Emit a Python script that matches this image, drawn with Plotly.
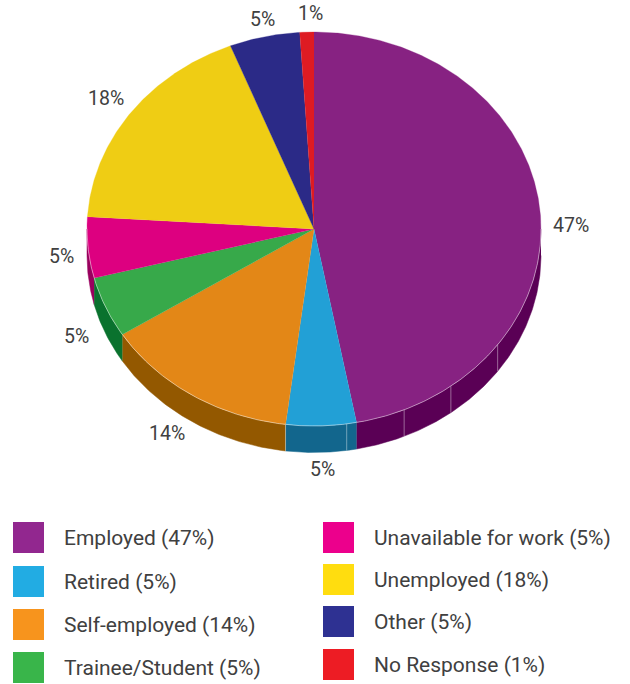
import numpy as np
import plotly.graph_objects as go

# Survey breakdown, drawn clockwise from twelve o'clock
categories = ["Employed", "Retired", "Self-employed", "Trainee/Student",
              "Unavailable for work", "Unemployed", "Other", "No Response"]
shares = [47, 5, 14, 5, 5, 18, 5, 1]

top_colors = ["#872282", "#22A0D6", "#E38717", "#37A94A",
              "#DD0080", "#EFCD14", "#2B2A87", "#DE1B23"]
side_colors = ["#5A0055", "#12668D", "#935800", "#0A722E",
               "#99005E", "#A08A00", "#1A1A5A", "#8A1015"]
key_colors = ["#92278F", "#22ACE3", "#F7941D", "#39B54A",
              "#EC008C", "#FFDD0F", "#2E3192", "#ED1C24"]

# Facet seams on the rim, as a cumulative percentage round the pie
rim_seams = [35.0, 39.7, 43.5, 47.7]

# Ellipse geometry in page pixels
CX, CY, RX, RY, DEPTH = 314.0, 229.0, 227.0, 197.0, 26.5
TEXT_COLOR = "#404040"
FONT = "Roboto"

# Hand adjustments for the outer percentage labels
label_nudge = [(3, 18), (1, -5), (-12, -6), (-4, 8), (1, 4), (-3, 1), (3, 5), (4, 4)]

# Top edge of each key swatch, by column
key_left_rows = [522, 566, 609, 652]
key_right_rows = [522, 564, 606, 649]
KEY_LEFT_X, KEY_RIGHT_X, KEY_SIZE, KEY_TEXT_GAP = 13, 323, 31, 49


def rim(a0, a1, drop=0.0):
    """Points on the pie edge between two angles (degrees clockwise from the top)."""
    t = np.radians(np.linspace(a0, a1, max(int(abs(a1 - a0) * 2), 2)))
    return CX + RX * np.sin(t), CY - RY * np.cos(t) + drop


fig = go.Figure()
edges = np.cumsum([0] + shares) / sum(shares) * 360.0

# Extruded wall: only the part facing the viewer (90 to 270 degrees)
for i in range(len(shares)):
    a0, a1 = max(edges[i], 90.0), min(edges[i + 1], 270.0)
    if a1 <= a0:
        continue
    xt, yt = rim(a0, a1)
    xb, yb = rim(a1, a0, DEPTH)
    fig.add_trace(go.Scatter(
        x=np.r_[xt, xb], y=np.r_[yt, yb], fill="toself", mode="lines",
        fillcolor=side_colors[i], line=dict(width=0.5, color=side_colors[i]),
        hoverinfo="skip", showlegend=False))

for pct in rim_seams + [47 + 5]:
    a = pct / 100 * 360.0
    xs, ys = rim(a, a + 0.01)
    fig.add_trace(go.Scatter(
        x=[xs[0], xs[0]], y=[ys[0], ys[0] + DEPTH], mode="lines",
        line=dict(width=1, color="rgba(255,255,255,0.4)"),
        hoverinfo="skip", showlegend=False))

# Top face
for i in range(len(shares)):
    xt, yt = rim(edges[i], edges[i + 1])
    fig.add_trace(go.Scatter(
        x=np.r_[CX, xt], y=np.r_[CY, yt], fill="toself", mode="lines",
        fillcolor=top_colors[i], line=dict(width=0.3, color=top_colors[i]),
        name=categories[i], hoverinfo="name", showlegend=False))

# Pale highlight where the top face meets the wall
xr, yr = rim(90, 270)
fig.add_trace(go.Scatter(
    x=xr, y=yr, mode="lines", line=dict(width=1, color="rgba(255,255,255,0.45)"),
    hoverinfo="skip", showlegend=False))

annotations = []
for i, s in enumerate(shares):
    mid = np.radians((edges[i] + edges[i + 1]) / 2)
    lower = max(-np.cos(mid), 0.0)
    gap = 22 + 6 * abs(np.sin(mid))
    x = CX + (RX + gap) * np.sin(mid) + label_nudge[i][0]
    y = CY - (RY + gap) * np.cos(mid) + lower * DEPTH + label_nudge[i][1]
    annotations.append(dict(
        x=x, y=y, text=f"{s}%", showarrow=False, xanchor="center", yanchor="middle",
        font=dict(family=FONT, size=19.5, color=TEXT_COLOR)))

# Two-column key
key_rows = [(KEY_LEFT_X, y) for y in key_left_rows] + [(KEY_RIGHT_X, y) for y in key_right_rows]
shapes = []
for i, (kx, ky) in enumerate(key_rows):
    shapes.append(dict(type="rect", x0=kx, x1=kx + KEY_SIZE, y0=ky, y1=ky + KEY_SIZE,
                       fillcolor=key_colors[i], line=dict(width=0), layer="above"))
    annotations.append(dict(
        x=kx + KEY_TEXT_GAP, y=ky + 16, text=f"{categories[i]} ({shares[i]}%)", showarrow=False,
        xanchor="left", yanchor="middle",
        font=dict(family=FONT, size=21, color=TEXT_COLOR)))

fig.update_layout(
    width=630, height=684, margin=dict(l=0, r=0, t=0, b=0),
    paper_bgcolor="white", plot_bgcolor="white",
    xaxis=dict(range=[0, 630], visible=False, fixedrange=True),
    yaxis=dict(range=[684, 0], visible=False, fixedrange=True),
    annotations=annotations, shapes=shapes, showlegend=False)

fig.write_html("out.html", config=dict(displayModeBar=False))
